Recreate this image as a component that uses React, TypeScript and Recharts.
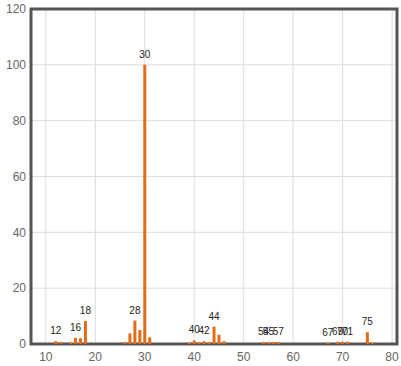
import { BarChart, Bar, XAxis, YAxis, CartesianGrid, ReferenceArea, LabelList } from "recharts";

// mass spectrum: m/z and relative intensity
const mz = [12, 13, 15, 16, 17, 18, 26, 27, 28, 29, 30, 31, 39, 40, 41, 42, 43, 44, 45, 46, 54, 55, 56, 57, 67, 69, 70, 71, 75, 76];
const intensity = [1.0, 0.7, 0.6, 2.2, 2.1, 8.2, 0.7, 3.8, 8.4, 5.0, 100, 2.4, 0.6, 1.3, 0.7, 1.0, 0.7, 6.2, 3.3, 1.0, 0.7, 0.7, 0.7, 0.7, 0.5, 0.8, 0.8, 0.8, 4.2, 0.6];
const labeledPeaks = [12, 16, 18, 28, 30, 40, 42, 44, 54, 55, 57, 67, 69, 70, 71, 75];

const xTicks = [10, 20, 30, 40, 50, 60, 70, 80];
const yTicks = [0, 20, 40, 60, 80, 100, 120];

const data = mz.map((m, i) => ({
  mz: m,
  value: intensity[i],
  label: labeledPeaks.includes(m) ? String(m) : "",
}));

const BAR = "#e36c18";
const FONT = "'Liberation Sans', Arial, sans-serif";

function PeakLabel(props: any) {
  const { x, y, width, value } = props;
  if (!value) return null;
  return (
    <text x={Number(x) + Number(width) / 2} y={Number(y) - 7} textAnchor="middle" fontSize={10} fill="#222" fontFamily={FONT}>
      {value}
    </text>
  );
}

export default function App() {
  return (
    <div style={{ position: "absolute", left: 0, top: 0 }}>
      <BarChart width={401} height={366} data={data} margin={{ top: 9, right: 4, left: 0, bottom: 0 }}>
        <CartesianGrid stroke="#dddddd" verticalValues={xTicks} />
        <XAxis
          dataKey="mz"
          type="number"
          domain={[7, 81]}
          ticks={xTicks}
          height={22}
          tickSize={0}
          tickMargin={8}
          axisLine={false}
          tick={{ fontSize: 12, fill: "#666", fontFamily: FONT }}
        />
        <YAxis
          type="number"
          domain={[0, 120]}
          ticks={yTicks}
          width={31}
          tickSize={0}
          tickMargin={5}
          axisLine={false}
          tick={{ fontSize: 12, fill: "#666", fontFamily: FONT }}
        />
        <Bar dataKey="value" fill={BAR} barSize={3} isAnimationActive={false}>
          <LabelList dataKey="label" content={<PeakLabel />} />
        </Bar>
        <ReferenceArea x1={7} x2={81} y1={0} y2={120} fill="none" stroke="#555" strokeWidth={3} />
      </BarChart>
    </div>
  );
}
